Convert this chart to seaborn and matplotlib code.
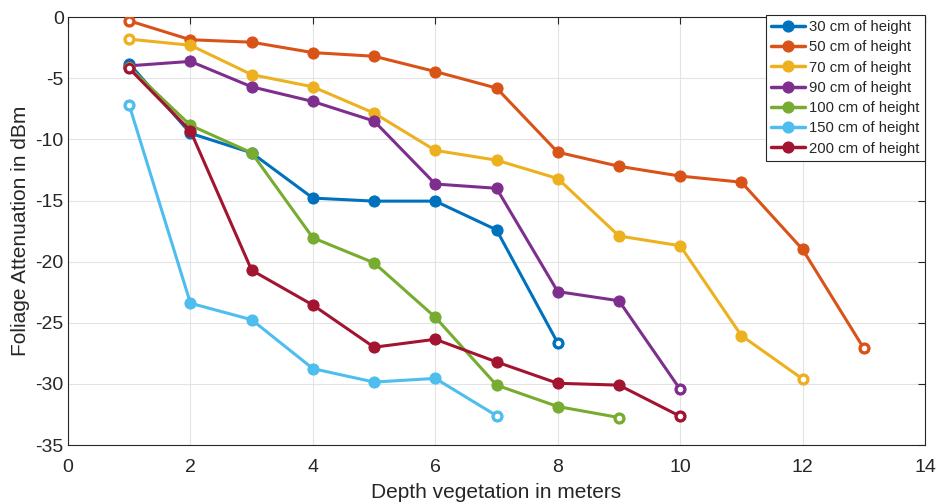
import numpy as np
import pandas as pd
import matplotlib
matplotlib.use("Agg")
import matplotlib.pyplot as plt
import seaborn as sns

labels = ["30 cm of height", "50 cm of height", "70 cm of height", "90 cm of height",
          "100 cm of height", "150 cm of height", "200 cm of height"]
colors = ["#0072BD", "#D95319", "#EDB120", "#7E2F8E", "#77AC30", "#4DBEEE", "#A2142F"]

h30 = [-3.8, -9.5, -11.1, -14.8, -15.05, -15.05, -17.4, -26.65]
h50 = [-0.3, -1.85, -2.05, -2.9, -3.2, -4.45, -5.8, -11.05, -12.2, -13.0, -13.5, -19.0, -27.1]
h70 = [-1.8, -2.3, -4.7, -5.7, -7.85, -10.9, -11.7, -13.2, -17.9, -18.7, -26.05, -29.6]
h90 = [-3.98, -3.62, -5.7, -6.9, -8.5, -13.65, -14.0, -22.45, -23.2, -30.45]
h100 = [-4.1, -8.85, -11.1, -18.05, -20.1, -24.55, -30.1, -31.85, -32.75]
h150 = [-7.2, -23.4, -24.75, -28.75, -29.85, -29.55, -32.6]
h200 = [-4.2, -9.3, -20.7, -23.55, -27.0, -26.35, -28.2, -29.95, -30.1, -32.65]

series = [h30, h50, h70, h90, h100, h150, h200]

rows = []
for lab, vals in zip(labels, series):
    for i, v in enumerate(vals):
        rows.append({"depth": i + 1, "att": v, "height": lab})
df = pd.DataFrame(rows)

sns.set_style("white")
plt.rcParams['font.family'] = ['Liberation Sans', 'DejaVu Sans']
plt.rcParams['axes.unicode_minus'] = False

fig = plt.figure(figsize=(9.38, 5.04), dpi=100)
ax = fig.add_axes([0.0725, 0.117, 0.9137, 0.849])

pal = dict(zip(labels, colors))
sns.lineplot(data=df, x="depth", y="att", hue="height", palette=pal, hue_order=labels,
             marker="o", markersize=8, linewidth=2.2, ax=ax,
             legend=True, zorder=3)
for ln in ax.lines:
    ln.set_markeredgecolor(ln.get_color())

# hollow end markers
ends = df.groupby("height").agg(first=("depth", "min"), last=("depth", "max")).reset_index()
endrows = df.merge(ends, on="height").query("depth == first or depth == last")
for lab in labels:
    sub = endrows[endrows["height"] == lab]
    ax.scatter(sub["depth"], sub["att"], s=36, facecolor="white", edgecolor=pal[lab],
               linewidth=2.0, zorder=4)

ax.set_xlim(0, 14)
ax.set_ylim(-35, 0)
ax.set_xticks(np.arange(0, 15, 2))
ax.set_yticks(np.arange(-35, 1, 5))
ax.grid(True, color="#e3e3e3", linewidth=0.8)
ax.set_axisbelow(True)
for s in ax.spines.values():
    s.set_color("#262626")
    s.set_linewidth(0.8)
ax.tick_params(direction="in", top=True, right=True, length=5, width=0.8,
               labelsize=14, colors="#262626")
ax.tick_params(axis="x", pad=10)
ax.tick_params(axis="y", pad=3)
ax.set_xlabel("Depth vegetation in meters", fontsize=15, color="#262626", va="center")
ax.set_ylabel("Foliage Attenuation in dBm", fontsize=15, color="#262626", va="center")
ax.xaxis.set_label_coords(0.5, -0.110)
ax.yaxis.set_label_coords(-0.056, 0.5)

leg = ax.legend(loc="upper right", bbox_to_anchor=(1.0, 1.005), fontsize=10.7,
                frameon=True, fancybox=False,
                edgecolor="#262626", framealpha=1, handlelength=2.3, handletextpad=0.3,
                borderpad=0.35, labelspacing=0.42, borderaxespad=0.0)
leg.get_frame().set_linewidth(0.8)
for h in leg.get_lines():
    h.set_markeredgecolor(h.get_color())
    h.set_linewidth(2.5)

fig.savefig("out.png", dpi=100)
